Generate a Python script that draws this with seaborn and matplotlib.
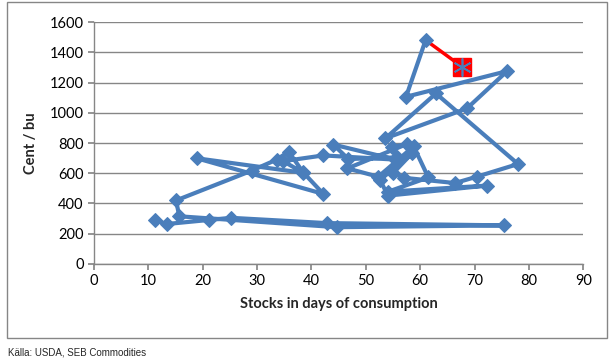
import matplotlib
matplotlib.use("Agg")
import matplotlib.pyplot as plt
import seaborn as sns
import pandas as pd
from matplotlib.patches import Rectangle

# stocks in days of consumption vs price (cent/bu), in time order
days = [11.2, 13.4, 21.2, 25.2, 42.8, 75.5, 44.7, 15.7, 15.1, 29.0,
        33.6, 35.8, 38.5, 42.2, 18.9, 38.5, 34.8, 42.2, 55.5, 44.0,
        46.8, 55.7, 54.8, 57.5, 46.6, 52.3, 58.8, 61.5, 54.1, 72.2,
        54.1, 52.6, 58.5, 55.0, 57.0, 66.4, 70.4, 78.0, 62.9, 53.6,
        68.6, 76.0, 57.4, 61.0]
price = [291, 264, 291, 305, 270, 255, 243, 315, 420, 617,
         690, 743, 605, 463, 699, 603, 680, 718, 690, 790,
         694, 705, 775, 792, 632, 577, 778, 572, 478, 518,
         452, 555, 732, 600, 570, 535, 577, 661, 1128, 831,
         1029, 1276, 1106, 1481]
forecast_days = [61.0, 67.7]
forecast_price = [1481, 1305]

BLUE = "#4A7EBB"

df = pd.DataFrame({"days": days, "price": price})
fc = pd.DataFrame({"days": forecast_days, "price": forecast_price})

sns.set_theme(style="white")
plt.rcParams["font.family"] = ["Lato", "DejaVu Sans"]

fig = plt.figure(figsize=(6.14, 3.63), dpi=100)
ax = fig.add_axes([0.153, 0.273, 0.797, 0.666])

sns.lineplot(data=fc, x="days", y="price", sort=False, estimator=None,
             color="red", linewidth=2.5, ax=ax, zorder=3)
sns.lineplot(data=df, x="days", y="price", sort=False, estimator=None,
             color=BLUE, linewidth=3, marker="D", markersize=7,
             markeredgecolor=BLUE, ax=ax, zorder=4)
ax.plot(fc["days"].iloc[-1:], fc["price"].iloc[-1:], marker="s",
        markersize=13, color="red", markeredgecolor="red", zorder=5)
ax.plot(fc["days"].iloc[-1:], fc["price"].iloc[-1:], marker=(6, 2, 0),
        markersize=13, color=BLUE, markeredgewidth=1.2, zorder=6)

ax.set_xlim(0, 90)
ax.set_ylim(0, 1600)
ax.set_xticks(range(0, 91, 10))
ax.set_yticks(range(0, 1601, 200))
ax.yaxis.grid(True, color="#868686", linewidth=1)
ax.set_axisbelow(True)
for s in ["top", "right"]:
    ax.spines[s].set_visible(False)
for s in ["left", "bottom"]:
    ax.spines[s].set_color("#868686")
    ax.spines[s].set_linewidth(1)
ax.tick_params(axis="both", direction="out", length=4, color="#868686",
               labelsize=10.5, labelcolor="black", bottom=True, left=True)
ax.set_xlabel("Stocks in days of consumption", fontsize=10.5,
              fontweight="bold", labelpad=6)
ax.set_ylabel("Cent / bu", fontsize=10.5, fontweight="bold", labelpad=8)

fig.patches.append(Rectangle((0.012, 0.07), 0.976, 0.925,
                             transform=fig.transFigure, fill=False,
                             edgecolor="#868686", linewidth=1))
fig.text(0.013, 0.022, "Källa: USDA, SEB Commodities", fontsize=7,
         family=["Liberation Sans Narrow", "Liberation Sans"])

fig.savefig("out.png", dpi=100)
